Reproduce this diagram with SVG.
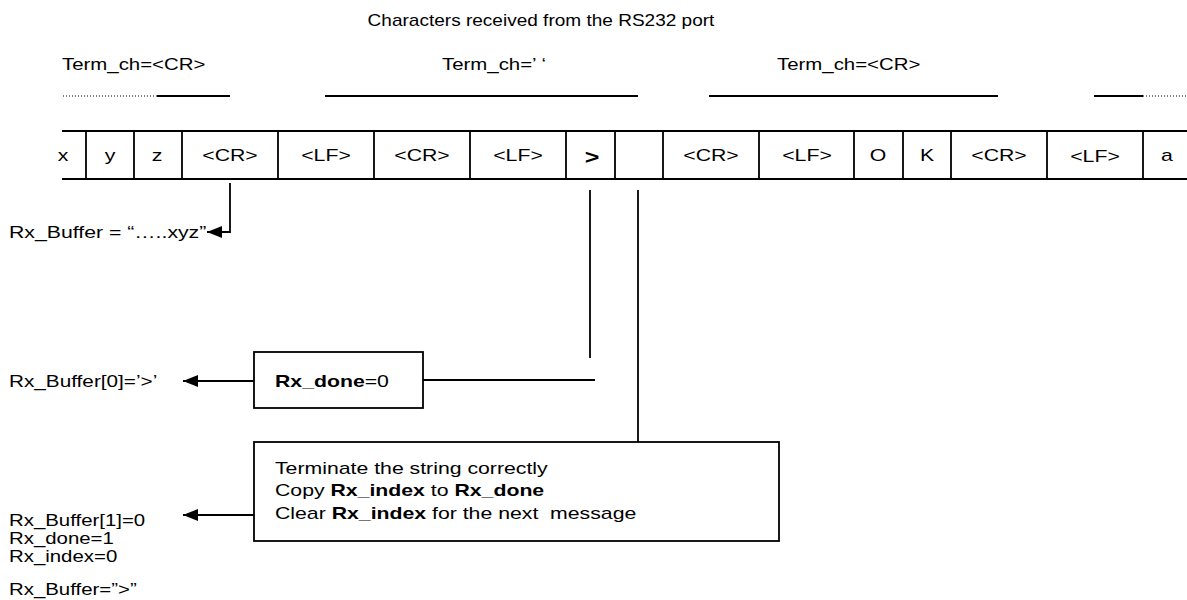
<svg xmlns="http://www.w3.org/2000/svg" width="1187" height="600" viewBox="0 0 1187 600">
<defs>
<style>
text{font-family:"Liberation Sans",Arial,sans-serif;font-size:17px;fill:#000}
.c{text-anchor:middle}
.b{font-weight:bold}
.ln{stroke:#000;stroke-width:1.8;fill:none}
.dot{stroke:#000;stroke-width:1.2;stroke-dasharray:1 2;fill:none}
.box{fill:#fff;stroke:#000;stroke-width:1.8}
</style>
<marker id="ah" viewBox="0 0 15 12" refX="15" refY="6" markerWidth="15" markerHeight="12" markerUnits="userSpaceOnUse" orient="auto">
<path d="M0,0 L15,6 L0,12 z" fill="#000"/>
</marker>
</defs>
<rect width="1187" height="600" fill="#fff"/>

<g id="title">
<text class="c" transform="translate(541,26) scale(1.12,1)">Characters received from the RS232 port</text>
</g>

<g id="terminators">
<text transform="translate(62,70) scale(1.2,1)">Term_ch=&lt;CR&gt;</text>
<text transform="translate(442,70) scale(1.2,1)">Term_ch=’ ‘</text>
<text transform="translate(777,70) scale(1.2,1)">Term_ch=&lt;CR&gt;</text>
<path class="dot" d="M63,96 H157"/>
<path class="ln" d="M157,96 H230"/>
<path class="ln" d="M325,96 H638"/>
<path class="ln" d="M709,96 H998"/>
<path class="ln" d="M1094,96 H1143"/>
<path class="dot" d="M1143,96 H1187"/>
</g>

<g id="stream">
<path class="ln" d="M62,131 H1187 M62,179 H1187"/>
<path class="ln" d="M86,131 V179 M134,131 V179 M182,131 V179 M278,131 V179 M374,131 V179 M470,131 V179 M566,131 V179 M615,131 V179 M663,131 V179 M759,131 V179 M854,131 V179 M903,131 V179 M951,131 V179 M1047,131 V179 M1143,131 V179"/>
<text class="c" transform="translate(63,161) scale(1.25,1)">x</text>
<text class="c" transform="translate(110,161) scale(1.25,1)">y</text>
<text class="c" transform="translate(157,161) scale(1.25,1)">z</text>
<text class="c" transform="translate(230,161) scale(1.25,1)">&lt;CR&gt;</text>
<text class="c" transform="translate(326,161) scale(1.25,1)">&lt;LF&gt;</text>
<text class="c" transform="translate(422,161) scale(1.25,1)">&lt;CR&gt;</text>
<text class="c" transform="translate(518,161) scale(1.25,1)">&lt;LF&gt;</text>
<text class="c b" transform="translate(592,164) scale(1.25,1)" style="font-size:20px">&gt;</text>
<text class="c" transform="translate(711,161) scale(1.25,1)">&lt;CR&gt;</text>
<text class="c" transform="translate(807,161) scale(1.25,1)">&lt;LF&gt;</text>
<text class="c" transform="translate(878,161) scale(1.25,1)">O</text>
<text class="c" transform="translate(927,161) scale(1.25,1)">K</text>
<text class="c" transform="translate(999,161) scale(1.25,1)">&lt;CR&gt;</text>
<text class="c" transform="translate(1095,162) scale(1.25,1)">&lt;LF&gt;</text>
<text class="c" transform="translate(1167,161) scale(1.25,1)">a</text>
</g>

<g id="box-done0">
<rect class="box" x="254" y="352" width="169" height="56"/>
<text transform="translate(275,387) scale(1.25,1)"><tspan class="b">Rx_done</tspan>=0</text>
</g>

<g id="box-terminate">
<rect class="box" x="254" y="442" width="525" height="99"/>
<text transform="translate(275,474) scale(1.25,1)">Terminate the string correctly</text>
<text transform="translate(275,496) scale(1.25,1)">Copy <tspan class="b">Rx_index</tspan> to <tspan class="b">Rx_done</tspan></text>
<text transform="translate(275,519) scale(1.25,1)" xml:space="preserve">Clear <tspan class="b">Rx_index</tspan> for the next  message</text>
</g>

<g id="results">
<text transform="translate(9,238) scale(1.25,1)">Rx_Buffer = “…..xyz”</text>
<text transform="translate(9,387) scale(1.22,1)">Rx_Buffer[0]=’&gt;’</text>
<text transform="translate(9,526) scale(1.2,1)">Rx_Buffer[1]=0</text>
<text transform="translate(9,544) scale(1.2,1)">Rx_done=1</text>
<text transform="translate(9,562) scale(1.2,1)">Rx_index=0</text>
<text transform="translate(9,595) scale(1.2,1)">Rx_Buffer=”&gt;”</text>
</g>

<g id="connectors">
<path class="ln" d="M230,183 V232 H207" marker-end="url(#ah)"/>
<path class="ln" d="M590,190 V358"/>
<path class="ln" d="M595,380 H423"/>
<path class="ln" d="M254,381 H183" marker-end="url(#ah)"/>
<path class="ln" d="M638,190 V442"/>
<path class="ln" d="M254,515 H183" marker-end="url(#ah)"/>
</g>
</svg>
